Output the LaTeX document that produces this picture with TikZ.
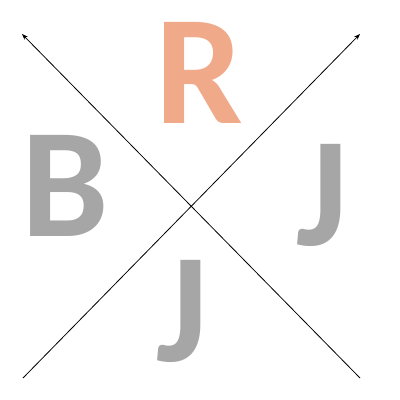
\documentclass[tikz,border=0pt]{standalone}
\usepackage{fontspec}
\setmainfont{Carlito}
\usetikzlibrary{arrows.meta}
\definecolor{salmon}{RGB}{240,170,138}
\definecolor{lgray}{RGB}{166,166,166}
\tikzset{
  letter/.style={inner sep=0pt, anchor=base, font=\fontsize{156}{156}\selectfont\bfseries},
  axis/.style={black, line width=0.8pt, -{Stealth[length=6pt,width=4.5pt]}}
}
\begin{document}
\begin{tikzpicture}[x=1pt,y=-1pt]
\useasboundingbox (0,0) rectangle (400,400);
\coordinate (bl) at (23,378);
\coordinate (br) at (360,378);
\coordinate (tl) at (22,34);
\coordinate (tr) at (360,34);
\draw[axis] (bl) -- (tr);
\draw[axis] (br) -- (tl);
\node[letter, text=salmon] (r) at (199,123) {R};
\node[letter, text=lgray] (b) at (65,236) {B};
\node[letter, text=lgray] (j1) at (322.5,245) {J};
\node[letter, text=lgray] (j2) at (182.5,361) {J};
\end{tikzpicture}
\end{document}
